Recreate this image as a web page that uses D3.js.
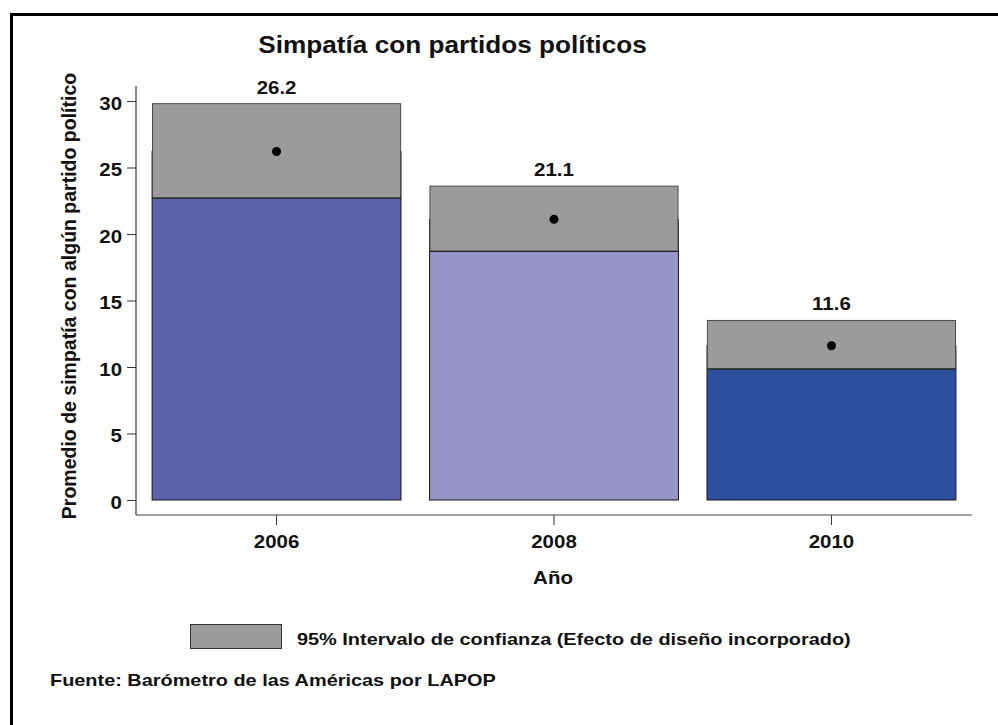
<!DOCTYPE html>
<html>
<head>
<meta charset="utf-8">
<script src="https://cdn.jsdelivr.net/npm/d3@7"></script>
<style>
  html, body { margin: 0; padding: 0; background: #fff; }
  text { font-family: "Liberation Sans", Arial, Helvetica, sans-serif; font-weight: bold; fill: #111; }
</style>
</head>
<body>
<svg id="chart" width="998" height="725"></svg>
<script>
const years = ["2006", "2008", "2010"];
const means = [26.2, 21.1, 11.6];
const ciLower = [22.7, 18.7, 9.85];
const ciUpper = [29.8, 23.6, 13.5];
const barColors = ["#5c62ab", "#9794c8", "#2e4e9e"];
const yTicks = [0, 5, 10, 15, 20, 25, 30];
const title = "Simpatía con partidos políticos";
const yTitle = "Promedio de simpatía con algún partido político";
const xTitle = "Año";
const legendLabel = "95% Intervalo de confianza (Efecto de diseño incorporado)";
const source = "Fuente: Barómetro de las Américas por LAPOP";

const SX = 1.17; // horizontal stretch of the lettering in the original
const svg = d3.select("#chart");

function stext(x, y, str, size, anchor, sx) {
  return svg.append("text")
    .attr("transform", `translate(${x},${y}) scale(${sx || SX},1)`)
    .attr("text-anchor", anchor || "start")
    .style("font-size", size + "px").text(str);
}

// outer frame (only top/left visible in the image)
svg.append("rect").attr("x", 11.5).attr("y", 14.5).attr("width", 1000).attr("height", 800)
  .attr("fill", "none").attr("stroke", "#000").attr("stroke-width", 3);

const x = d3.scaleBand().domain(years).range([136, 972]).paddingInner(0.103).paddingOuter(0.058);
const y = d3.scaleLinear().domain([0, 30]).range([500, 101]);

// title
stext(452.5, 53, title, 23.5, "middle", 1.115);

// bars: colored part up to the lower CI bound, gray CI box on top
const g = svg.append("g");
years.forEach((yr, i) => {
  g.append("rect").attr("x", x(yr)).attr("width", x.bandwidth())
    .attr("y", y(means[i])).attr("height", y(0) - y(means[i]))
    .attr("fill", barColors[i]).attr("stroke", "#15151f").attr("stroke-width", 1);
  g.append("rect").attr("x", x(yr) + 0.4).attr("width", x.bandwidth() - 0.8)
    .attr("y", y(ciUpper[i])).attr("height", y(ciLower[i]) - y(ciUpper[i]))
    .attr("fill", "#9b9b9b").attr("stroke", "#4a4a4a").attr("stroke-width", 1);
  g.append("line").attr("x1", x(yr)).attr("x2", x(yr) + x.bandwidth())
    .attr("y1", y(ciLower[i])).attr("y2", y(ciLower[i])).attr("stroke", "#111");
  g.append("circle").attr("cx", x(yr) + x.bandwidth() / 2).attr("cy", y(means[i]))
    .attr("r", 4.5).attr("fill", "#000");
  stext(x(yr) + x.bandwidth() / 2, y(ciUpper[i]) - 10, means[i].toFixed(1), 17.5, "middle");
});

// y axis
const yAxis = d3.axisLeft(y).tickValues(yTicks).tickSize(9).tickPadding(5).tickSizeOuter(0);
const ya = svg.append("g").attr("transform", "translate(136,0)").call(yAxis);
ya.select(".domain").remove();
ya.append("line").attr("x1", 0).attr("x2", 0).attr("y1", 86).attr("y2", 515).attr("stroke", "#111");
ya.selectAll(".tick line").attr("stroke", "#333");
ya.selectAll(".tick text")
  .attr("x", -14 / SX).attr("dy", "0.47em").attr("transform", `scale(${SX},1)`)
  .style("font-size", "17.5px").style("font-family", "Liberation Sans, Arial, sans-serif")
  .style("font-weight", "bold").attr("fill", "#111");

// x axis
const xAxis = d3.axisBottom(x).tickSize(10).tickPadding(9).tickSizeOuter(0);
const xa = svg.append("g").attr("transform", "translate(0,515)").call(xAxis);
xa.select(".domain").remove();
xa.append("line").attr("x1", 136).attr("x2", 972).attr("y1", 0).attr("y2", 0).attr("stroke", "#444");
xa.selectAll(".tick line").attr("stroke", "#333");
xa.selectAll(".tick text").attr("y", 0).attr("dy", 0)
  .attr("transform", `translate(0,32.7) scale(${SX},1)`)
  .style("font-size", "17.5px").style("font-family", "Liberation Sans, Arial, sans-serif")
  .style("font-weight", "bold").attr("fill", "#111");

// axis titles
stext(553, 584, xTitle, 17.5, "middle");
svg.append("text").attr("transform", "translate(76,296) rotate(-90)").attr("text-anchor", "middle")
  .style("font-size", "19.5px").text(yTitle);

// legend
svg.append("rect").attr("x", 190.5).attr("y", 624.5).attr("width", 91).attr("height", 24)
  .attr("fill", "#9b9b9b").attr("stroke", "#333").attr("stroke-width", 1);
stext(297, 645, legendLabel, 17);

// source
stext(50, 686, source, 17);
</script>
</body>
</html>
